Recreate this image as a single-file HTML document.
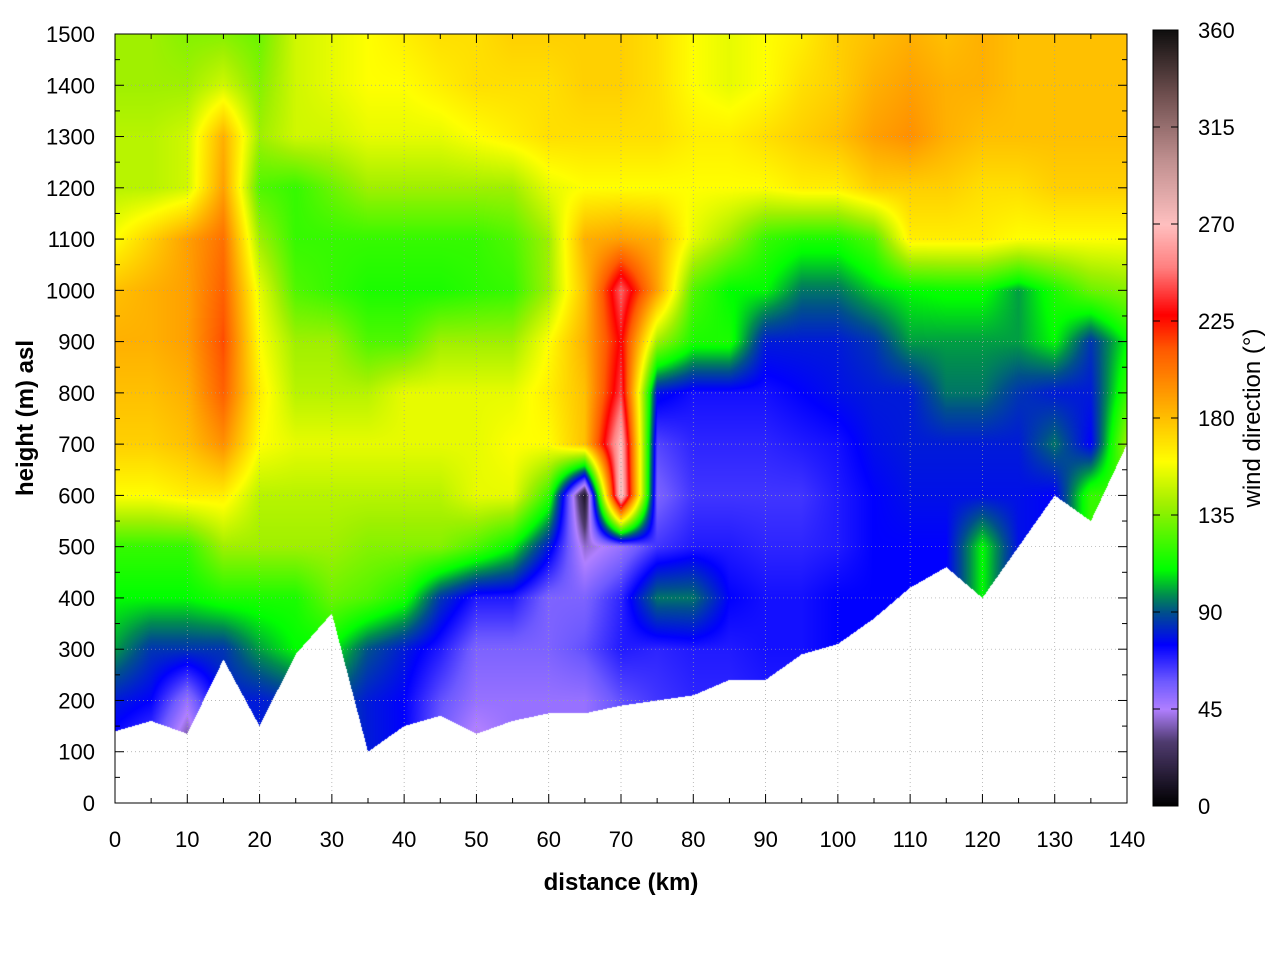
<!DOCTYPE html>
<html><head><meta charset="utf-8"><style>
body{margin:0;background:#fff;width:1280px;height:960px;overflow:hidden;font-family:"Liberation Sans",sans-serif}
#wrap{position:relative;width:1280px;height:960px}
canvas{position:absolute;left:0;top:0}
svg{position:absolute;left:0;top:0}
</style></head><body><div id="wrap">
<canvas id="cv" width="1280" height="960"></canvas>
<svg id="sv" width="1280" height="960"></svg>
</div>
<script>
const kms=[0,5,10,15,20,25,30,35,40,45,50,55,60,65,70,75,80,85,90,95,100,105,110,115,120,125,130,135,140];
const heights=[100,200,300,400,500,600,700,800,900,1000,1100,1200,1300,1400,1500];
const terrain=[140,160,135,280,150,290,370,100,150,170,135,160,175,175,190,200,210,240,240,290,310,360,420,460,400,500,600,550,700];
const r100=[70,60,30,80,80,85,90,80,75,55,40,50,50,50,60,65,68,68,70,70,70,70,70,70,70,70,70,70,70];
const r200=[80,75,50,80,80,85,90,80,75,60,50,50,50,50,60,65,68,68,70,70,70,70,70,70,70,70,70,70,70];
const r300=[100,85,85,85,100,110,110,90,80,70,55,55,55,60,70,68,70,70,72,72,75,75,75,75,75,75,75,75,75];
const r400=[110,110,110,115,115,115,130,125,115,85,70,70,55,55,68,95,95,75,72,72,75,75,75,75,110,75,75,75,75];
const r500=[120,120,120,140,140,140,140,135,135,135,125,110,80,40,50,65,70,70,68,68,70,75,75,75,110,78,75,120,120];
const r600=[160,160,165,165,145,145,145,145,145,145,155,155,120,10,280,55,65,65,65,65,70,75,78,78,78,78,75,120,120];
const r700=[175,175,180,195,160,155,155,155,155,155,155,160,160,180,270,62,68,68,68,70,72,78,80,80,80,80,95,75,140];
const r800=[180,180,185,210,165,145,145,145,155,155,155,155,165,180,240,78,72,72,72,75,78,80,80,95,95,85,80,80,120];
const r900=[185,185,190,215,160,140,140,125,125,140,140,140,160,185,230,140,115,115,80,80,80,85,100,100,100,100,110,85,110];
const r1000=[180,185,190,210,155,125,120,115,115,115,118,120,140,180,245,190,125,110,110,95,95,105,110,112,112,100,115,130,135];
const r1100=[160,175,190,205,140,120,120,120,120,120,120,125,140,185,190,185,155,140,120,115,115,125,165,165,165,160,160,160,160];
const r1200=[145,145,150,190,125,120,130,140,140,140,140,140,155,160,160,160,160,160,160,165,165,175,175,175,170,170,175,175,175];
const r1300=[145,145,150,185,140,150,150,155,155,155,160,165,170,170,170,170,165,165,170,175,180,190,195,185,180,180,180,180,180];
const r1400=[140,140,140,150,135,150,155,160,160,165,170,170,170,175,175,170,160,155,160,170,175,185,190,185,185,180,180,180,180];
const r1500=[140,140,135,135,130,150,155,160,165,170,170,175,175,175,175,170,160,155,160,165,175,180,185,180,185,180,180,180,180];
const rows=[r100,r200,r300,r400,r500,r600,r700,r800,r900,r1000,r1100,r1200,r1300,r1400,r1500];
const xTicks=[0,10,20,30,40,50,60,70,80,90,100,110,120,130,140];
const yTicks=[0,100,200,300,400,500,600,700,800,900,1000,1100,1200,1300,1400,1500];
const cbTicks=[0,45,90,135,180,225,270,315,360];

const stops=[[0,[0,0,0]],[30,[80,60,112]],[45,[176,128,255]],[58,[110,90,255]],[75,[0,0,255]],[90,[0,80,140]],[98,[0,140,80]],[110,[0,255,0]],[140,[160,240,0]],[160,[255,255,0]],[180,[255,192,0]],[195,[255,144,0]],[212,[255,90,0]],[228,[255,0,0]],[250,[255,128,128]],[270,[255,192,192]],[300,[192,144,144]],[330,[112,80,80]],[360,[16,16,16]]];
function cmap(v){v=Math.max(0,Math.min(360,v));for(let i=1;i<stops.length;i++){if(v<=stops[i][0]){const a=stops[i-1],b=stops[i],t=(v-a[0])/(b[0]-a[0]);return [0,1,2].map(k=>a[1][k]+(b[1][k]-a[1][k])*t);}}return stops[stops.length-1][1];}

const L=115,T=34,W=1012,H=769;
const xs=k=>L+k/140*W, ys=h=>T+H-h/1500*H;
function interp1(arr,k){let i=Math.min(Math.floor(k/5),arr.length-2);const t=(k-kms[i])/5;return arr[i]*(1-t)+arr[i+1]*t;}
function val(k,h){let j=Math.floor((h-100)/100);if(j<0)j=0;if(j>heights.length-2)j=heights.length-2;let t=(h-heights[j])/100;t=Math.max(0,Math.min(1,t));return interp1(rows[j],k)*(1-t)+interp1(rows[j+1],k)*t;}

const cv=document.getElementById('cv'),ctx=cv.getContext('2d');
ctx.fillStyle='#fff';ctx.fillRect(0,0,1280,960);
const img=ctx.createImageData(W,H);
for(let px=0;px<W;px++){const k=(px+0.5)/W*140;const tr=interp1(terrain,k);
 for(let py=0;py<H;py++){const h=(H-py-0.5)/H*1500;const o=(py*W+px)*4;
  if(h<tr){img.data[o]=255;img.data[o+1]=255;img.data[o+2]=255;img.data[o+3]=255;continue;}
  const c=cmap(val(k,h));img.data[o]=c[0];img.data[o+1]=c[1];img.data[o+2]=c[2];img.data[o+3]=255;}}
ctx.putImageData(img,L,T);
const CX=1153,CT=30,CB=806,CW=25;
for(let y=CT;y<CB;y++){const v=(CB-y)/(CB-CT)*360;const c=cmap(v);ctx.fillStyle=`rgb(${c[0]|0},${c[1]|0},${c[2]|0})`;ctx.fillRect(CX,y,CW,1);}

const NS='http://www.w3.org/2000/svg',sv=document.getElementById('sv');
function el(tag,at,txt){const e=document.createElementNS(NS,tag);for(const a in at)e.setAttribute(a,at[a]);if(txt!==undefined)e.textContent=txt;sv.appendChild(e);return e;}
xTicks.forEach(k=>{if(k>0&&k<140){const g=el('line',{x1:xs(k),x2:xs(k),y1:T,y2:T+H,stroke:'#a0a0a0','stroke-width':0.7,'stroke-dasharray':'1,3'});

}});
yTicks.forEach(h=>{if(h>0&&h<1500){const g=el('line',{x1:L,x2:L+W,y1:ys(h),y2:ys(h),stroke:'#a0a0a0','stroke-width':0.7,'stroke-dasharray':'1,3'});

}});
for(let k=0;k<=140;k+=5){const len=(k%10===0)?9:5;
 const a=el('line',{x1:xs(k),x2:xs(k),y1:T+H,y2:T+H-len,stroke:'#000'});
 const b=el('line',{x1:xs(k),x2:xs(k),y1:T,y2:T+len,stroke:'#000'});}
for(let h=0;h<=1500;h+=50){const len=(h%100===0)?9:5;
 const a=el('line',{x1:L,x2:L+len,y1:ys(h),y2:ys(h),stroke:'#000'});
 const b=el('line',{x1:L+W,x2:L+W-len,y1:ys(h),y2:ys(h),stroke:'#000'});}
const fr=el('rect',{x:L,y:T,width:W,height:H,fill:'none',stroke:'#000','stroke-width':1});

xTicks.forEach(k=>{const t=el('text',{x:xs(k),y:847,'font-size':22,'text-anchor':'middle'},String(k));});
yTicks.forEach(h=>{const t=el('text',{x:95,y:ys(h)+8,'font-size':22,'text-anchor':'end'},String(h));});
const xt=el('text',{x:621,y:890,'font-size':24,'font-weight':'bold','text-anchor':'middle'},'distance (km)');

const yt=el('text',{x:33,y:418,'font-size':24,'font-weight':'bold','text-anchor':'middle',transform:'rotate(-90 33 418)'},'height (m) asl');

const cf=el('rect',{x:CX,y:CT,width:CW,height:CB-CT,fill:'none',stroke:'#000'});

cbTicks.forEach(v=>{const y=CB-v/360*(CB-CT);
 const a=el('line',{x1:CX,x2:CX+7,y1:y,y2:y,stroke:'#000'});
 const b=el('line',{x1:CX+CW,x2:CX+CW-7,y1:y,y2:y,stroke:'#000'});
 const t=el('text',{x:1198,y:y+8,'font-size':22},String(v));});
const ct=el('text',{x:1260,y:418,'font-size':24,'text-anchor':'middle',transform:'rotate(-90 1260 418)'},'wind direction (°)');

</script></body></html>
